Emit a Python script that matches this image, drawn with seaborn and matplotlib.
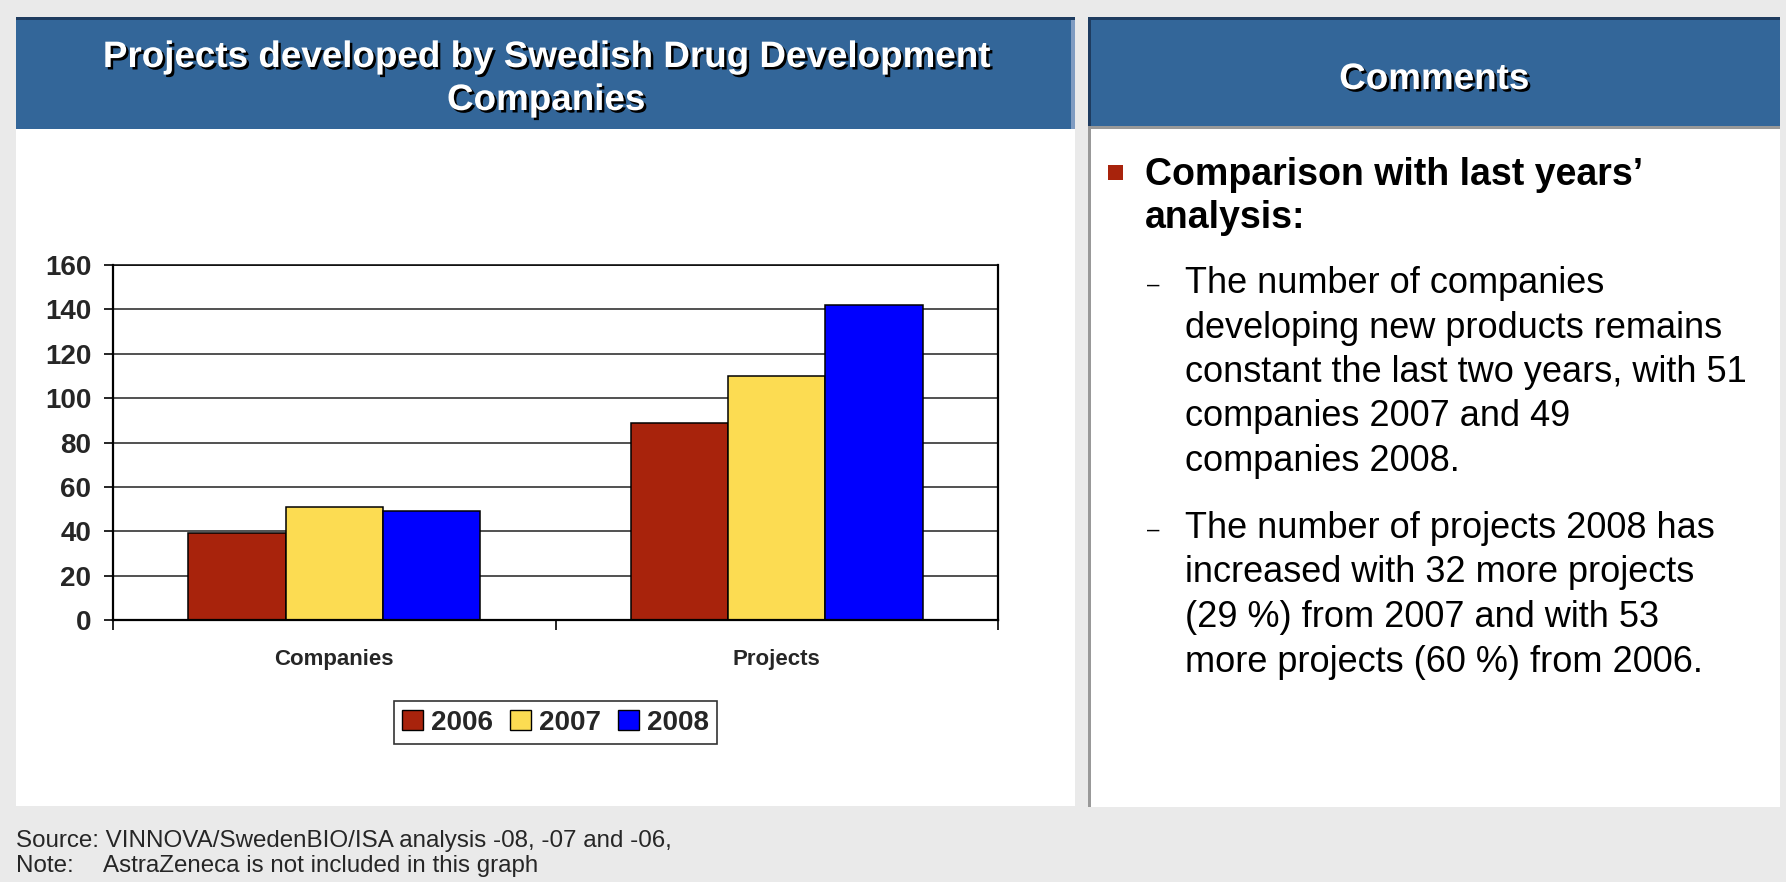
import pandas as pd
import seaborn as sns
import matplotlib.pyplot as plt
import matplotlib.patheffects as pe
from matplotlib.patches import Rectangle, Patch
from matplotlib.ticker import FixedLocator

# data
categories = ["Companies", "Projects"]
years = ["2006", "2007", "2008"]
companies = [39, 51, 49]
projects = [89, 110, 142]
year_colors = ["#A8230C", "#FCDC52", "#0000FF"]

title_lines = ["Projects developed by Swedish Drug Development", "Companies"]
comment_head = ["Comparison with last years\u2019", "analysis:"]
comment_items = [
    ["The number of companies",
     "developing new products remains",
     "constant the last two years, with 51",
     "companies 2007 and 49",
     "companies 2008."],
    ["The number of projects 2008 has",
     "increased with 32 more projects",
     "(29 %) from 2007 and with 53",
     "more projects (60 %) from 2006."],
]
source_text = "Source: VINNOVA/SwedenBIO/ISA analysis -08, -07 and -06,"
note_label = "Note:"
note_text = "AstraZeneca is not included in this graph"

W, H = 1786, 882
HEADER_BLUE = "#336699"

sns.set_style("white")
plt.rcParams["font.family"] = ["Liberation Sans", "DejaVu Sans"]

fig = plt.figure(figsize=(W / 100, H / 100), dpi=100)
fig.patch.set_facecolor("#EAEAEA")


def box(x, y, w, h, color, z=-5):
    """Rectangle in pixel coords measured from the top-left corner."""
    fig.patches.append(Rectangle((x / W, 1 - (y + h) / H), w / W, h / H,
                                 transform=fig.transFigure, facecolor=color,
                                 edgecolor="none", zorder=z))


def ftext(x, y, s, **kw):
    return fig.text(x / W, 1 - y / H, s, **kw)


shadow = [pe.SimplePatchShadow(offset=(1.8, -1.8), shadow_rgbFace="black", alpha=1.0), pe.Normal()]

# left panel
box(16, 17, 1059, 789, "white")
box(16, 17, 1059, 112, HEADER_BLUE, z=-4)
box(16, 17, 1059, 3, "#1E3C60", z=-3)
box(1071, 20, 4, 109, "#7F9CC2", z=-3)
# right panel
box(1088, 17, 692, 790, "white")
box(1088, 17, 692, 112, HEADER_BLUE, z=-4)
box(1088, 17, 692, 3, "#1E3C60", z=-3)
box(1088, 17, 3, 112, "#1E3C60", z=-3)
box(1088, 126, 692, 3, "#999999", z=-3)
box(1088, 126, 3, 681, "#999999", z=-3)

# headers
ftext(546, 67, title_lines[0], ha="center", va="baseline", color="white",
      fontsize=26.5, fontweight="bold", path_effects=shadow)
ftext(546, 110, title_lines[1], ha="center", va="baseline", color="white",
      fontsize=26.5, fontweight="bold", path_effects=shadow)
ftext(1434, 89, "Comments", ha="center", va="baseline", color="white",
      fontsize=26.5, fontweight="bold", path_effects=shadow)

# comments
box(1108, 165, 15, 15, "#A8230C", z=2)
for i, line in enumerate(comment_head):
    ftext(1145, 185 + i * 43, line, ha="left", va="baseline", fontsize=27,
          fontweight="bold", color="black")

item_starts = [293, 538]
for start, lines in zip(item_starts, comment_items):
    ftext(1153, start - 2, "\u2013", ha="center", va="baseline", fontsize=16, color="black")
    for i, line in enumerate(lines):
        ftext(1185, start + i * 44.5, line, ha="left", va="baseline", fontsize=26, color="black")

# footer
ftext(16, 847, source_text, ha="left", va="baseline", fontsize=17.4)
ftext(16, 872, note_label, ha="left", va="baseline", fontsize=17.4)
ftext(103, 872, note_text, ha="left", va="baseline", fontsize=17.4)

# chart
df = pd.DataFrame({
    "category": [c for c in categories for _ in years],
    "year": years * len(categories),
    "value": companies + projects,
})

ax = fig.add_axes([113 / W, 1 - 620 / H, 885 / W, 355 / H])
ax.set_facecolor("white")
palette = dict(zip(years, year_colors))
sns.barplot(data=df, x="category", y="value", hue="year", hue_order=years,
            order=categories, palette=palette, width=0.66, errorbar=None,
            edgecolor="black", linewidth=1.1, saturation=1, ax=ax)

ax.set_xlim(-0.5, 1.5)
ax.set_ylim(0, 160)
ax.set_yticks(range(0, 161, 20))
ax.set_xlabel("")
ax.set_ylabel("")
ax.set_axisbelow(True)
ax.yaxis.grid(True, color="#222222", linewidth=1.1)
ax.xaxis.grid(False)

for side in ["left", "right", "bottom", "top"]:
    ax.spines[side].set_visible(True)
    ax.spines[side].set_color("black")
    ax.spines[side].set_linewidth(1.6)
ax.spines["top"].set_linewidth(1.1)

ax.tick_params(axis="y", left=True, length=6.5, width=1.2, direction="out",
               pad=9, labelsize=20, color="black")
ax.tick_params(axis="x", which="major", bottom=True, length=0, pad=21, labelsize=16)
ax.xaxis.set_minor_locator(FixedLocator([-0.5, 0.5, 1.5]))
ax.tick_params(axis="x", which="minor", bottom=True, length=7, width=1.2,
               direction="out", color="black")
for lab in ax.get_yticklabels() + ax.get_xticklabels():
    lab.set_fontweight("bold")

handles = [Patch(facecolor=c, edgecolor="black", linewidth=1.0) for c in year_colors]
leg = ax.legend(handles, years, loc="center", bbox_to_anchor=(0.5, -0.289), ncol=3,
                frameon=True, fancybox=False, edgecolor="black",
                prop={"weight": "bold", "size": 20}, handlelength=0.75,
                handleheight=0.75, handletextpad=0.3, columnspacing=0.6,
                borderpad=0.3, borderaxespad=0)
leg.get_frame().set_linewidth(1.2)

fig.savefig("out.png", dpi=100, facecolor=fig.get_facecolor())
